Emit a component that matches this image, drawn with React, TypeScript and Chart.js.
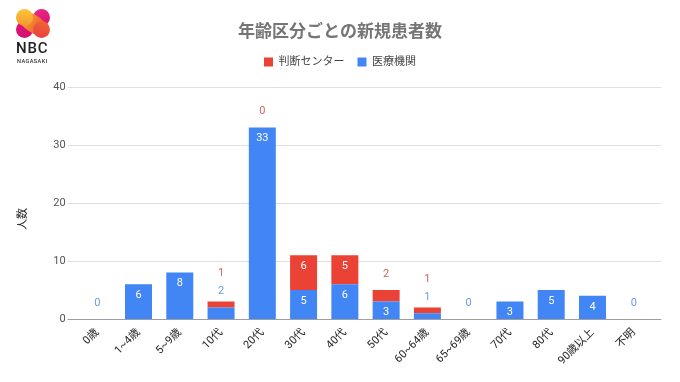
import React, { useEffect, useRef } from 'react';
import { Chart, registerables } from 'chart.js';

Chart.register(...registerables);

const categories = ['0歳', '1~4歳', '5~9歳', '10代', '20代', '30代', '40代', '50代', '60~64歳', '65~69歳', '70代', '80代', '90歳以上', '不明'];
const iryoKikan: (number | null)[] = [0, 6, 8, 2, 33, 5, 6, 3, 1, 0, 3, 5, 4, 0];
const handanCenter: (number | null)[] = [null, null, null, 1, 0, 6, 5, 2, 1, null, null, null, null, null];
const yTicks = [0, 10, 20, 30, 40];

const BLUE = '#4285F4';
const RED = '#EA4335';
const BLUE_TXT = '#6b9ae8';
const RED_TXT = '#d2675b';
const FAMILY = 'Roboto, "Noto Sans CJK JP", sans-serif';

const customPlugin = {
  id: 'customDraw',
  beforeLayout(chart: any) {
    const lg = chart.legend;
    if (lg && !lg._patched) {
      const f = lg.fit;
      lg.fit = function () {
        f.call(this);
        this.height += 9.5;
      };
      lg._patched = true;
    }
  },
  beforeDatasetsDraw(chart: any) {
    const { ctx, chartArea } = chart;
    const y = chart.scales.y;
    ctx.save();
    ctx.strokeStyle = '#e0e0e0';
    ctx.lineWidth = 1;
    yTicks.forEach((v) => {
      if (v === 0) return;
      const py = Math.round(y.getPixelForValue(v)) + 0.5;
      ctx.beginPath();
      ctx.moveTo(chartArea.left - 9, py);
      ctx.lineTo(chartArea.right + 7, py);
      ctx.stroke();
    });
    ctx.restore();
  },
  afterDatasetsDraw(chart: any) {
    const { ctx, chartArea } = chart;
    const y = chart.scales.y;
    ctx.save();
    const py0 = Math.round(y.getPixelForValue(0)) + 0.5;
    ctx.strokeStyle = '#9e9e9e';
    ctx.lineWidth = 1;
    ctx.beginPath();
    ctx.moveTo(chartArea.left - 9, py0);
    ctx.lineTo(chartArea.right + 7, py0);
    ctx.stroke();

    ctx.save();
    ctx.translate(23, 219);
    ctx.rotate(-Math.PI / 2);
    ctx.font = `11px ${FAMILY}`;
    ctx.fillStyle = '#222';
    ctx.textAlign = 'center';
    ctx.textBaseline = 'middle';
    ctx.fillText('人数', 0, 0);
    ctx.restore();

    const mb = chart.getDatasetMeta(0);
    const mr = chart.getDatasetMeta(1);
    ctx.font = `11px ${FAMILY}`;
    ctx.textAlign = 'center';
    ctx.textBaseline = 'middle';
    categories.forEach((_, i) => {
      const b = iryoKikan[i];
      const r = handanCenter[i];
      const total = (b ?? 0) + (r ?? 0);
      const topPx = y.getPixelForValue(total);
      const x = mb.data[i].x;
      const segs = [
        { v: b, el: mb.data[i], color: BLUE_TXT },
        { v: r, el: mr.data[i], color: RED_TXT },
      ];
      const outside: any[] = [];
      segs.forEach((s) => {
        if (s.v == null) return;
        const h = s.el.base - s.el.y;
        if (h >= 15) {
          ctx.fillStyle = '#ffffff';
          ctx.fillText(String(s.v), x, s.el.y + 11);
        } else {
          outside.push(s);
        }
      });
      if (outside.length === 1) {
        ctx.fillStyle = outside[0].color;
        ctx.fillText(String(outside[0].v), x, topPx - 16);
      } else if (outside.length === 2) {
        ctx.fillStyle = outside[0].color;
        ctx.fillText(String(outside[0].v), x, topPx - 10);
        ctx.fillStyle = outside[1].color;
        ctx.fillText(String(outside[1].v), x, topPx - 28);
      }
    });
    ctx.restore();
  },
};

function Logo() {
  const circle = (cx: number, cy: number, bg: string) => (
    <div
      style={{
        position: 'absolute',
        left: cx - 8.5,
        top: cy - 8.5,
        width: 17,
        height: 17,
        borderRadius: '50%',
        background: bg,
      }}
    />
  );
  return (
    <div style={{ position: 'absolute', left: 0, top: 0, width: 70, height: 70 }}>
      {circle(41.5, 17, 'linear-gradient(160deg, #ea2a8a, #d8106f)')}
      {circle(24.5, 29, 'linear-gradient(160deg, #e3157d, #cf0f6c)')}
      <div
        style={{
          position: 'absolute',
          left: 21,
          top: 14.5,
          width: 24,
          height: 17,
          borderRadius: 8.5,
          background: 'linear-gradient(90deg, #f7a12d, #ee5a34)',
          transform: 'rotate(35deg)',
          transformOrigin: '50% 50%',
        }}
      />
      {circle(24.5, 17, 'linear-gradient(180deg, #fcc53a, #f59a2c)')}
      {circle(41.5, 29, 'linear-gradient(200deg, #f16a30, #e83a44)')}
      <div
        style={{
          position: 'absolute',
          left: 16,
          top: 41,
          fontFamily: 'Roboto, sans-serif',
          fontSize: 15,
          lineHeight: '15px',
          fontWeight: 500,
          color: '#222',
          letterSpacing: 0.8,
          whiteSpace: 'nowrap',
        }}
      >
        NBC
      </div>
      <div
        style={{
          position: 'absolute',
          left: 17,
          top: 58.8,
          fontFamily: 'Roboto, sans-serif',
          fontSize: 5.6,
          lineHeight: '5.6px',
          fontWeight: 500,
          color: '#333',
          letterSpacing: 0.4,
          whiteSpace: 'nowrap',
        }}
      >
        NAGASAKI
      </div>
    </div>
  );
}

export default function App() {
  const ref = useRef<HTMLCanvasElement>(null);
  useEffect(() => {
    const chart = new Chart(ref.current as HTMLCanvasElement, {
      type: 'bar',
      data: {
        labels: categories,
        datasets: [
          {
            label: '医療機関',
            data: iryoKikan as any,
            backgroundColor: BLUE,
            stack: 's',
            barPercentage: 0.654,
            categoryPercentage: 1,
          },
          {
            label: '判断センター',
            data: handanCenter as any,
            backgroundColor: RED,
            stack: 's',
            barPercentage: 0.654,
            categoryPercentage: 1,
          },
        ],
      },
      options: {
        responsive: false,
        animation: false,
        layout: { padding: { top: 0, left: 25.6, right: 25.6, bottom: 0 } },
        plugins: {
          title: {
            display: true,
            text: '年齢区分ごとの新規患者数',
            font: { size: 17, weight: 'bold', family: FAMILY },
            color: '#757575',
            padding: { top: 22.8, bottom: 0.3 },
          },
          legend: {
            reverse: true,
            labels: {
              boxWidth: 9,
              boxHeight: 9,
              padding: 13,
              font: { size: 11, family: FAMILY },
              color: '#444',
            },
          },
          tooltip: { enabled: false },
        },
        scales: {
          x: {
            stacked: true,
            grid: { display: false, drawTicks: false },
            border: { display: false },
            ticks: {
              minRotation: 45,
              maxRotation: 45,
              autoSkip: false,
              font: { size: 11, family: FAMILY },
              color: '#222',
              padding: 7,
            },
            afterFit: (s: any) => {
              s.height = 63;
            },
          },
          y: {
            stacked: true,
            min: 0,
            max: 40,
            afterBuildTicks: (s: any) => {
              s.ticks = yTicks.map((v) => ({ value: v }));
            },
            grid: { display: false, drawTicks: false },
            border: { display: false },
            ticks: {
              padding: 11,
              font: { size: 11, family: FAMILY },
              color: '#555',
            },
            afterFit: (s: any) => {
              s.width = 51;
            },
          },
        },
      },
      plugins: [customPlugin as any],
    });
    return () => chart.destroy();
  }, []);
  return (
    <div style={{ position: 'fixed', left: 0, top: 0, width: 680, height: 382, background: '#fff' }}>
      <canvas ref={ref} width={680} height={382} style={{ position: 'absolute', left: 0, top: 0 }} />
      <Logo />
    </div>
  );
}
